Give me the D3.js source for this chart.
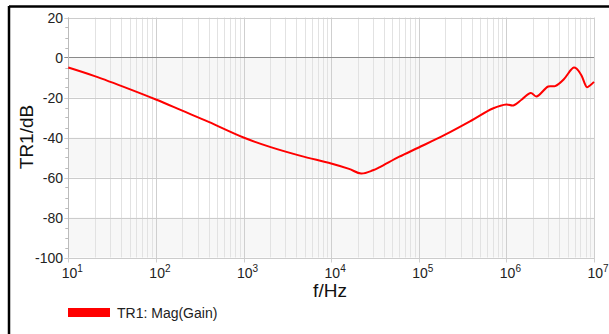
<!DOCTYPE html>
<html>
<head>
<meta charset="utf-8">
<script src="https://cdn.jsdelivr.net/npm/d3@7"></script>
<style>
body { margin: 0; background: #fff; }
text { font-family: "Liberation Sans", Arial, sans-serif; }
</style>
</head>
<body>
<script>
var freq = [10, 20, 50, 100, 200, 400, 1000, 2000, 4500, 10000, 16000, 22000, 30000, 36000,
            60000, 100000, 200000, 400000, 700000, 1000000, 1200000, 1500000, 1900000, 2200000,
            3000000, 3600000, 4500000, 5500000, 5900000, 6300000, 7200000, 8300000, 9000000, 10000000];
var gain = [-5, -9.3, -15.8, -21, -26.6, -32.2, -40, -44.7, -49.2, -53, -55.7, -58, -56.4, -54.8,
            -49.6, -45, -38.6, -31.5, -25.5, -23.5, -24, -21, -17.7, -19.5,
            -14.5, -14.3, -11, -6, -5, -5.5, -9, -14.8, -14, -12.2];
var yTicks = [20, 0, -20, -40, -60, -80, -100];
var decades = [1, 2, 3, 4, 5, 6, 7];
var legendLabel = "TR1: Mag(Gain)";

var W = 609, H = 334;
var svg = d3.select("body").append("svg").attr("width", W).attr("height", H);

var x = d3.scaleLog().domain([10, 1e7]).range([68.3, 594]);
var y = d3.scaleLinear().domain([-100, 20]).range([257.5, 17.5]);

// outer frame (top and left)
svg.append("line").attr("x1", 9).attr("x2", W).attr("y1", 6.5).attr("y2", 6.5)
    .attr("stroke", "#000").attr("stroke-width", 2.5);
svg.append("line").attr("x1", 9).attr("x2", 9).attr("y1", 6).attr("y2", H)
    .attr("stroke", "#000").attr("stroke-width", 2.5);

// shaded bands
var bands = [[0, -20], [-40, -60], [-80, -100]];
svg.append("g").selectAll("rect").data(bands).enter().append("rect")
    .attr("x", x(10)).attr("width", x(1e7) - x(10))
    .attr("y", function(d){ return y(d[0]); })
    .attr("height", function(d){ return y(d[1]) - y(d[0]); })
    .attr("fill", "#f7f7f7");

// vertical grid
var minor = [];
for (var e = 1; e < 7; e++) {
    for (var m = 2; m <= 9; m++) minor.push(m * Math.pow(10, e));
}
svg.append("g").selectAll("line").data(minor).enter().append("line")
    .attr("x1", function(d){ return Math.round(x(d)) + 0.5; })
    .attr("x2", function(d){ return Math.round(x(d)) + 0.5; })
    .attr("y1", y(20)).attr("y2", y(-100))
    .attr("stroke", "#e2e2e2");
svg.append("g").selectAll("line").data(decades).enter().append("line")
    .attr("x1", function(d){ return Math.round(x(Math.pow(10, d))) + 0.5; })
    .attr("x2", function(d){ return Math.round(x(Math.pow(10, d))) + 0.5; })
    .attr("y1", y(20)).attr("y2", y(-100) + 5)
    .attr("stroke", "#cfcfcf");

// horizontal grid
svg.append("g").selectAll("line").data(yTicks).enter().append("line")
    .attr("x1", x(10) - 4).attr("x2", x(1e7))
    .attr("y1", function(d){ return Math.round(y(d)) + 0.5; })
    .attr("y2", function(d){ return Math.round(y(d)) + 0.5; })
    .attr("stroke", function(d){ return d === 0 ? "#8a8a8a" : "#cccccc"; });

// minor y ticks
var yMinor = d3.range(-95, 20, 5).filter(function(d){ return d % 20 !== 0; });
svg.append("g").selectAll("line").data(yMinor).enter().append("line")
    .attr("x1", x(10) - 3).attr("x2", x(10))
    .attr("y1", function(d){ return Math.round(y(d)) + 0.5; })
    .attr("y2", function(d){ return Math.round(y(d)) + 0.5; })
    .attr("stroke", "#bbbbbb");

// axis line
svg.append("line").attr("x1", Math.round(x(10)) + 0.5).attr("x2", Math.round(x(10)) + 0.5)
    .attr("y1", y(20)).attr("y2", y(-100))
    .attr("stroke", "#bbbbbb");

// y labels
svg.append("g").selectAll("text").data(yTicks).enter().append("text")
    .attr("x", 63).attr("y", function(d){ return y(d) + 5; })
    .attr("text-anchor", "end").attr("font-size", 14).attr("fill", "#222")
    .text(function(d){ return d; });

// x labels 10^n
var xl = svg.append("g").selectAll("text").data(decades).enter().append("text")
    .attr("x", function(d){ return x(Math.pow(10, d)) + 4; })
    .attr("y", 278).attr("text-anchor", "middle")
    .attr("font-size", 14).attr("fill", "#222");
xl.append("tspan").text("10");
xl.append("tspan").attr("dy", -6).attr("font-size", 10).text(function(d){ return d; });

// axis titles
svg.append("text").attr("x", 330).attr("y", 297).attr("text-anchor", "middle")
    .attr("font-size", 19).attr("fill", "#111").text("f/Hz");
svg.append("text").attr("transform", "translate(33,137) rotate(-90)")
    .attr("text-anchor", "middle").attr("font-size", 19).attr("fill", "#111").text("TR1/dB");

// curve
var pts = freq.map(function(f, i){ return [f, gain[i]]; });
var line = d3.line()
    .x(function(d){ return x(d[0]); })
    .y(function(d){ return y(d[1]); })
    .curve(d3.curveCatmullRom.alpha(0.5));
svg.append("path").datum(pts).attr("d", line)
    .attr("fill", "none").attr("stroke", "#ff0000").attr("stroke-width", 2);

// legend
svg.append("rect").attr("x", 68).attr("y", 308).attr("width", 42).attr("height", 9).attr("fill", "#ff0000");
svg.append("text").attr("x", 117).attr("y", 318).attr("font-size", 14).attr("fill", "#222")
    .text(legendLabel);
</script>
</body>
</html>
